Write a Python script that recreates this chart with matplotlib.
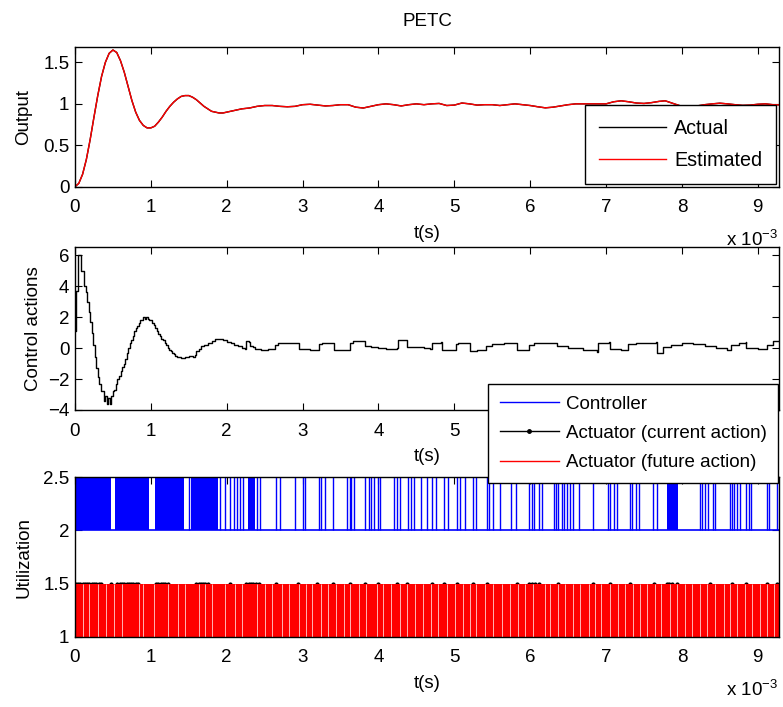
import matplotlib
matplotlib.use('Agg')
import matplotlib.pyplot as plt
from matplotlib.lines import Line2D
from matplotlib.ticker import FuncFormatter

plt.rcParams['font.family'] = ['Liberation Sans', 'DejaVu Sans']
plt.rcParams['mathtext.default'] = 'regular'
plt.rcParams['font.size'] = 13.5

# ---- data (time in ms) ----
t_out = [0, 0.05, 0.10, 0.15, 0.20, 0.25, 0.30, 0.35, 0.40, 0.45, 0.50, 0.55, 0.60, 0.65,
         0.70, 0.75, 0.80, 0.85, 0.90, 0.95, 1.00, 1.05, 1.10, 1.15, 1.20, 1.25, 1.30, 1.35,
         1.40, 1.45, 1.50, 1.55, 1.60, 1.65, 1.70, 1.75, 1.80, 1.85, 1.90, 1.95, 2.00,
         2.10, 2.20, 2.30, 2.40, 2.50, 2.60, 2.70, 2.80, 2.90, 3.00, 3.10, 3.20, 3.30, 3.40,
         3.50, 3.60, 3.70, 3.80, 3.90, 4.00, 4.10, 4.20, 4.30, 4.40, 4.50, 4.60, 4.70, 4.80,
         4.90, 5.00, 5.10, 5.20, 5.30, 5.40, 5.50, 5.60, 5.70, 5.80, 5.90, 6.00, 6.10, 6.20,
         6.30, 6.40, 6.50, 6.60, 6.70, 6.80, 6.90, 7.00, 7.10, 7.20, 7.30, 7.40, 7.50, 7.60,
         7.70, 7.78, 7.90, 8.00, 8.10, 8.20, 8.30, 8.40, 8.50, 8.60, 8.70, 8.80, 8.90, 9.00,
         9.10, 9.20, 9.28]
y_actual = [0, 0.04, 0.15, 0.33, 0.57, 0.84, 1.10, 1.33, 1.50, 1.61, 1.65, 1.62, 1.52, 1.38,
            1.21, 1.04, 0.90, 0.80, 0.74, 0.71, 0.71, 0.73, 0.78, 0.84, 0.91, 0.97, 1.02, 1.06,
            1.09, 1.10, 1.10, 1.08, 1.05, 1.01, 0.97, 0.94, 0.91, 0.90, 0.89, 0.89, 0.90,
            0.92, 0.94, 0.95, 0.97, 0.98, 0.98, 0.97, 0.965, 0.97, 0.99, 0.995, 0.985, 0.975, 0.98,
            0.99, 0.99, 0.96, 0.95, 0.97, 0.99, 1.0, 0.99, 0.975, 0.99, 1.0, 0.99, 1.0, 1.005,
            0.98, 0.985, 1.01, 1.0, 0.985, 0.99, 0.99, 0.98, 0.99, 1.0, 0.99, 0.98, 0.965, 0.952,
            0.96, 0.975, 0.99, 1.0, 1.0, 1.0, 1.0, 1.0, 1.025, 1.037, 1.025, 1.01, 1.005, 1.015,
            1.03, 1.037, 1.0, 0.97, 0.964, 0.975, 0.99, 1.0, 1.008, 1.0, 0.99, 0.982, 0.985, 0.995,
            1.0, 0.99, 0.988]
y_estimated = list(y_actual)

ctrl_t = [0.00, 0.015, 0.035, 0.085, 0.125, 0.14, 0.16, 0.18, 0.20, 0.22, 0.24, 0.26, 0.28,
          0.30, 0.32, 0.34, 0.36, 0.38, 0.40, 0.42, 0.44, 0.46, 0.48, 0.50, 0.52, 0.54, 0.56,
          0.58, 0.60, 0.62, 0.64, 0.66, 0.68, 0.70, 0.72, 0.74, 0.76, 0.78, 0.80, 0.82, 0.84,
          0.86, 0.88, 0.90, 0.92, 0.94, 0.96, 0.98, 1.00, 1.02, 1.04, 1.06, 1.08, 1.10, 1.12,
          1.14, 1.16, 1.18, 1.20, 1.22, 1.24, 1.26, 1.28, 1.30, 1.32, 1.35, 1.40, 1.45, 1.50,
          1.55, 1.58, 1.60, 1.63, 1.66, 1.70, 1.75, 1.80, 1.85, 1.90, 1.95, 2.00, 2.05, 2.10,
          2.15, 2.20, 2.24, 2.26, 2.29, 2.31, 2.34, 2.37, 2.45, 2.55, 2.63, 2.68, 2.80, 2.93,
          2.95, 3.10, 3.20, 3.21, 3.25, 3.40, 3.41, 3.60, 3.62, 3.66, 3.80, 3.82, 3.90, 4.00,
          4.10, 4.24, 4.26, 4.38, 4.45, 4.60, 4.68, 4.70, 4.83, 4.84, 4.95, 5.02, 5.05, 5.20,
          5.21, 5.30, 5.42, 5.50, 5.65, 5.82, 5.83, 5.97, 5.98, 6.05, 6.20, 6.35, 6.50, 6.70,
          6.88, 6.89, 7.04, 7.05, 7.20, 7.28, 7.29, 7.40, 7.50, 7.66, 7.67, 7.74, 7.75, 7.85,
          8.00, 8.15, 8.30, 8.45, 8.60, 8.64, 8.65, 8.75, 8.84, 8.85, 9.00, 9.10, 9.12, 9.20,
          9.28]
ctrl_u = [1.1, 3.7, 6.0, 5.0, 4.0, 3.6, 3.0, 2.3, 1.7, 1.0, 0.2, -0.6, -1.3,
          -1.9, -2.3, -2.8, -2.8, -3.4, -3.1, -3.6, -3.2, -3.6, -3.1, -2.8, -2.7, -2.3, -2.0,
          -1.8, -1.5, -1.2, -1.0, -0.7, -0.3, 0.0, 0.3, 0.5, 0.8, 1.1, 1.3, 1.4, 1.6,
          1.8, 1.8, 2.0, 1.9, 2.0, 1.9, 1.8, 1.8, 1.6, 1.5, 1.3, 1.1, 0.9, 0.8,
          0.6, 0.5, 0.3, 0.2, 0.0, -0.1, -0.2, -0.3, -0.4, -0.5, -0.6, -0.65, -0.6, -0.5,
          -0.55, -0.45, -0.2, -0.05, 0.1, 0.2, 0.35, 0.45, 0.55, 0.58, 0.52, 0.42, 0.3, 0.2,
          0.1, 0.02, -0.05, 0.45, 0.4, 0.15, 0.05, -0.08, -0.1, -0.08, 0.22, 0.3, 0.35, 0.32,
          -0.08, -0.1, -0.1, 0.28, 0.35, 0.35, -0.12, -0.15, 0.35, 0.45, 0.45, 0.15, 0.05, -0.02,
          -0.05, -0.03, 0.5, 0.08, 0.05, 0.0, -0.04, 0.35, 0.38, -0.15, -0.15, 0.25, 0.32, 0.3,
          -0.2, -0.15, 0.15, 0.25, 0.35, 0.3, -0.1, -0.12, 0.2, 0.35, 0.3, 0.1, 0.0, -0.1,
          -0.26, 0.35, 0.4, -0.05, -0.1, -0.12, 0.25, 0.3, 0.35, 0.38, -0.35, -0.3, 0.05, 0.2,
          0.3, 0.25, 0.15, 0.0, -0.1, -0.12, 0.2, 0.3, 0.4, 0.0, -0.05, -0.05, 0.2, 0.45,
          0.45]

# controller transmissions (blue), dense bursts given as intervals
ctrl_bursts = [(0.0, 0.48), (0.53, 0.98), (1.06, 1.44), (1.53, 1.89), (2.28, 2.37), (7.80, 7.95)]
ctrl_events = [1.50, 1.91, 1.98, 2.04, 2.09, 2.14, 2.18, 2.22, 2.40, 2.44, 2.65, 2.70, 2.90,
               3.01, 3.03, 3.21, 3.24, 3.30, 3.40, 3.58, 3.62, 3.64, 3.68, 3.82, 3.87, 3.90,
               3.94, 3.99, 4.02, 4.21, 4.24, 4.28, 4.39, 4.43, 4.47, 4.56, 4.64, 4.71, 4.76,
               4.86, 4.92, 5.04, 5.08, 5.14, 5.24, 5.29, 5.43, 5.46, 5.51, 5.60, 5.75, 5.81,
               5.98, 6.02, 6.05, 6.11, 6.15, 6.31, 6.34, 6.37, 6.42, 6.44, 6.48, 6.53, 6.56,
               6.65, 6.83, 7.02, 7.05, 7.11, 7.15, 7.31, 7.34, 7.40, 7.43, 7.62, 7.67, 8.24,
               8.27, 8.30, 8.35, 8.41, 8.44, 8.63, 8.66, 8.69, 8.72, 8.77, 8.85, 8.88, 8.91,
               9.12, 9.15, 9.25]

# actuator current-action updates (black dots)
act_events = [0.01, 0.04, 0.07, 0.10, 0.13, 0.16, 0.19, 0.22, 0.25, 0.28, 0.31, 0.34, 0.48,
              0.56, 0.59, 0.62, 0.65, 0.68, 0.71, 0.74, 0.77, 0.80, 0.83, 1.07, 1.10, 1.13,
              1.16, 1.19, 1.22, 1.60, 1.63, 1.66, 1.69, 1.72, 1.75, 2.04, 2.26, 2.29, 2.32,
              2.35, 2.38, 2.42, 2.65, 2.94, 3.19, 3.40, 3.62, 3.82, 4.00, 4.24, 4.38, 4.70,
              4.86, 5.04, 5.24, 5.43, 5.82, 5.98, 6.02, 6.06, 6.12, 6.37, 6.83, 7.05, 7.31,
              7.63, 7.80, 7.83, 7.87, 7.93, 8.37, 8.66, 8.85, 9.12, 9.25]

# actuator future action (red): active over the whole run, with short gaps
future_on = (0.0, 9.28)
future_gaps = [0.11, 0.19, 0.30, 0.41, 0.51, 0.62, 0.84, 0.90, 1.04, 1.23, 1.36, 1.45, 1.63,
               1.72, 1.81, 1.98, 2.11, 2.20, 2.40, 2.51, 2.60, 2.73, 2.82, 2.95, 3.04, 3.13,
               3.24, 3.33, 3.44, 3.54, 3.63, 3.75, 3.84, 3.98, 4.06, 4.17, 4.28, 4.37, 4.48,
               4.59, 4.69, 4.79, 4.90, 5.01, 5.12, 5.21, 5.29, 5.40, 5.51, 5.63, 5.73, 5.84,
               5.93, 6.04, 6.19, 6.26, 6.37, 6.46, 6.57, 6.66, 6.77, 6.85, 6.94, 7.05, 7.16,
               7.25, 7.36, 7.45, 7.54, 7.65, 7.73, 7.84, 7.93, 8.04, 8.13, 8.24, 8.33, 8.44,
               8.55, 8.64, 8.72, 8.83, 8.92, 9.03, 9.12, 9.21]

W, H = 783, 707
fig = plt.figure(figsize=(W / 100, H / 100), dpi=100)


def box(left, top, right, bottom):
    return [left / W, 1 - bottom / H, (right - left) / W, (bottom - top) / H]


ax1 = fig.add_axes(box(75, 46.7, 779, 186.7))
ax2 = fig.add_axes(box(75, 247.3, 779, 410))
ax3 = fig.add_axes(box(75, 477.3, 779, 636.7))

fmt = FuncFormatter(lambda v, p: ('%g' % v).replace('-', '\u2212'))
for ax in (ax1, ax2, ax3):
    ax.set_xlim(0, 9.28)
    ax.set_xticks(range(10))
    ax.tick_params(direction='in', top=True, right=True, length=5, width=0.8, pad=9)
    ax.tick_params(axis='y', pad=4)
    ax.yaxis.set_major_formatter(fmt)
    for s in ax.spines.values():
        s.set_linewidth(1.0)
    ax.set_xlabel('t(s)', labelpad=6)

# top: output
ax1.plot(t_out, y_actual, color='k', lw=1.0, label='Actual')
ax1.plot(t_out, y_estimated, color='#ff0000', lw=1.0, label='Estimated')
ax1.set_ylim(0, 1.69)
ax1.set_yticks([0, 0.5, 1, 1.5])
ax1.set_ylabel('Output', labelpad=8)
ax1.set_title('PETC', fontsize=13.5, pad=15)
leg1 = ax1.legend(loc='lower right', fancybox=False, edgecolor='k', framealpha=1,
                  prop={'size': 14.2}, handlelength=3.4, handletextpad=0.4,
                  labelspacing=0.65, borderaxespad=0.15, borderpad=0.7)
leg1.get_frame().set_linewidth(1.0)

# middle: control actions
ax2.plot(ctrl_t, ctrl_u, color='k', lw=1.0, drawstyle='steps-post')
ax2.set_ylim(-4, 6.5)
ax2.set_yticks([-4, -2, 0, 2, 4, 6])
ax2.set_ylabel('Control actions', labelpad=4)

# bottom: utilization
ax3.set_ylim(1, 2.5)
ax3.set_yticks([1, 1.5, 2, 2.5])
ax3.plot(list(future_on), [2, 2], color='#0000ff', lw=1.2)
for a, b in ctrl_bursts:
    ax3.fill_between([a, b], 2, 2.5, color='#0000ff', lw=0)
ax3.vlines(ctrl_events, 2, 2.5, color='#0000ff', lw=1.0)
ax3.vlines(act_events, 1, 1.5, color='k', lw=0.8)
ax3.plot(act_events, [1.5] * len(act_events), 'k.', ms=4, zorder=1)
ax3.fill_between(list(future_on), 1, 1.5, color='#ff0000', lw=0, zorder=2)
ax3.vlines(future_gaps, 1, 1.5, color='#ffb4b4', lw=0.7, zorder=2.5)
ax3.set_ylabel('Utilization', labelpad=8)

handles = [Line2D([], [], color='#0000ff', lw=1.0),
           Line2D([], [], color='k', lw=1.0, marker='.', ms=5),
           Line2D([], [], color='#ff0000', lw=1.0)]
labels = ['Controller', 'Actuator (current action)', 'Actuator (future action)']
leg2 = fig.legend(handles, labels, loc='upper right',
                  bbox_to_anchor=(778.3 / W, 1 - 384.3 / H), borderaxespad=0,
                  fancybox=False, edgecolor='k', framealpha=1, handlelength=3.15,
                  handletextpad=0.4, labelspacing=0.65, borderpad=0.6)
leg2.get_frame().set_linewidth(1.0)

# x 10^-3 multipliers under the top and bottom axes (the middle one sits behind the legend)
for yb in (186.7, 636.7):
    fig.text(778 / W, 1 - (yb + 59) / H, 'x 10$^{-3}$', ha='right', va='baseline',
             fontsize=13.5)

fig.savefig('out.png', dpi=100)
